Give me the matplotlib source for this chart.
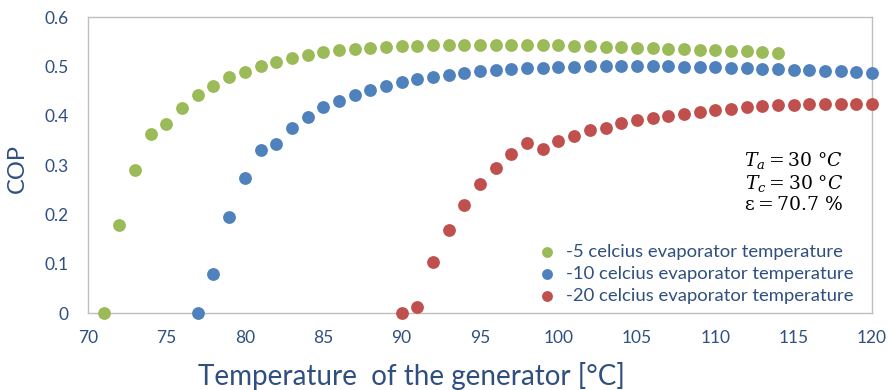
import matplotlib.pyplot as plt
import numpy as np

# data
t_green = list(range(71, 115))
cop_green = [0.0, 0.178, 0.291, 0.363, 0.383, 0.415, 0.442, 0.461, 0.479, 0.489,
             0.501, 0.510, 0.517, 0.524, 0.529, 0.533, 0.536, 0.538, 0.540, 0.541,
             0.542, 0.543, 0.544, 0.544, 0.544, 0.544, 0.544, 0.544, 0.543, 0.543,
             0.542, 0.541, 0.540, 0.539, 0.538, 0.537, 0.536, 0.535, 0.534, 0.533,
             0.532, 0.531, 0.530, 0.527]

t_blue = list(range(77, 121))
cop_blue = [0.0, 0.080, 0.195, 0.274, 0.331, 0.343, 0.375, 0.397, 0.417, 0.430,
            0.443, 0.453, 0.461, 0.468, 0.474, 0.479, 0.483, 0.487, 0.490, 0.492,
            0.494, 0.496, 0.497, 0.498, 0.499, 0.500, 0.500, 0.500, 0.500, 0.500,
            0.500, 0.499, 0.499, 0.498, 0.497, 0.496, 0.495, 0.494, 0.493, 0.492,
            0.491, 0.490, 0.489, 0.487]

t_red = list(range(90, 121))
cop_red = [0.0, 0.012, 0.103, 0.168, 0.219, 0.261, 0.295, 0.322, 0.344, 0.333,
           0.348, 0.359, 0.371, 0.376, 0.386, 0.391, 0.396, 0.400, 0.404, 0.408,
           0.411, 0.414, 0.417, 0.419, 0.421, 0.422, 0.423, 0.423, 0.424, 0.424,
           0.424]

labels = ['-5 celcius evaporator temperature',
          '-10 celcius evaporator temperature',
          '-20 celcius evaporator temperature']
colors = ['#9BBB59', '#4F81BD', '#C0504D']
txt = '#2F4F7F'

plt.rcParams['font.family'] = ['Lato', 'DejaVu Sans']
plt.rcParams['mathtext.fontset'] = 'dejavuserif'

fig = plt.figure(figsize=(8.92, 3.90), dpi=100)
ax = fig.add_axes([0.0987, 0.1974, 0.879, 0.7586])

for x, y, c, lab in zip([t_green, t_blue, t_red], [cop_green, cop_blue, cop_red], colors, labels):
    ax.scatter(x, y, s=85, color=c, label=lab, zorder=3, clip_on=False, linewidths=0)

ax.set_xlim(70, 120)
ax.set_ylim(0, 0.6)
ax.set_xticks(np.arange(70, 121, 5))
ax.set_yticks(np.arange(0, 0.61, 0.1))
ax.set_yticklabels(['0', '0.1', '0.2', '0.3', '0.4', '0.5', '0.6'])
ax.tick_params(length=0, labelsize=12.5, labelcolor=txt)
ax.tick_params(axis='x', pad=12)
ax.tick_params(axis='y', pad=14)
for s in ax.spines.values():
    s.set_color('#BFBFBF')
    s.set_linewidth(1)

ax.set_xlabel('Temperature  of the generator [°C]', fontsize=20, color=txt)
ax.xaxis.set_label_coords(0.412, -0.165)
ax.set_ylabel('COP', fontsize=17, color=txt)
ax.yaxis.set_label_coords(-0.077, 0.49)

ax.text(0.963, 0.55,
        '$T_a = 30\\ °C$\n$T_c = 30\\ °C$\n$\\mathrm{\\epsilon} = 70.7\\ \\%$',
        transform=ax.transAxes, ha='right', va='top', fontsize=13.5,
        linespacing=1.1, color='black')

leg = ax.legend(loc='lower right', bbox_to_anchor=(0.995, -0.02), frameon=False,
                fontsize=13.3, handletextpad=0.0, borderpad=0.3, labelspacing=0.33,
                labelcolor=txt, markerscale=0.85)

fig.savefig('out.png', dpi=100)
